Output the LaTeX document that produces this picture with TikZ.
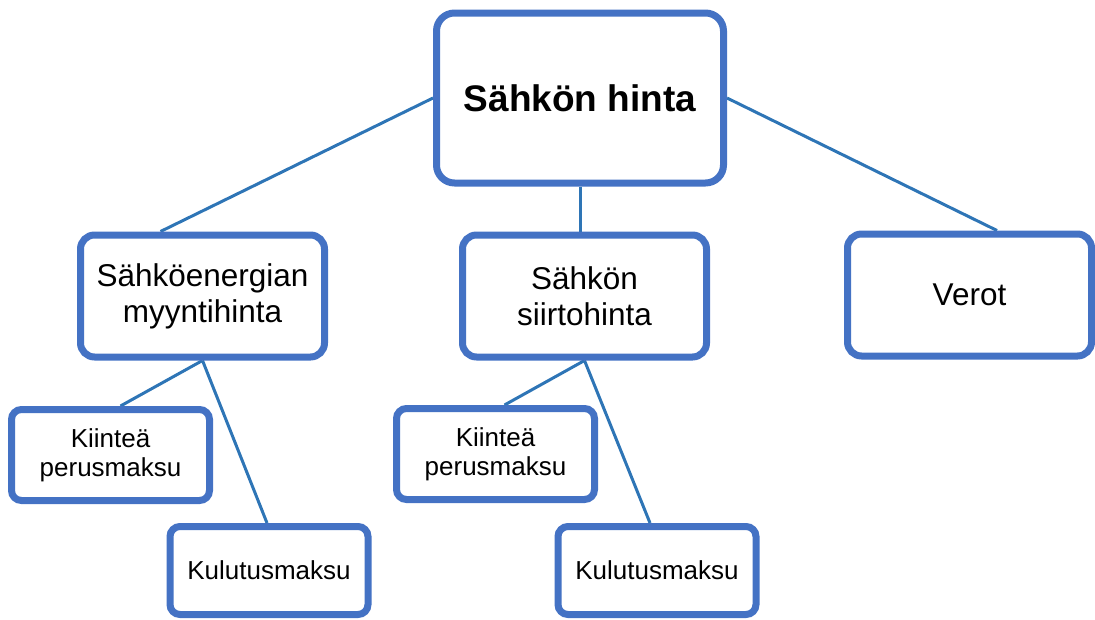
\documentclass[tikz,border=0pt]{standalone}
\usepackage{fontspec}
\setmainfont{Liberation Sans}
\usetikzlibrary{backgrounds}

\definecolor{boxblue}{RGB}{68,114,196}
\definecolor{lineblue}{RGB}{46,117,182}

\tikzstyle{block} = [draw=boxblue, line width=7pt, fill=white, rectangle, align=center, inner sep=0pt]
\tikzstyle{root} = [block, rounded corners=18pt, minimum width=287pt, minimum height=170pt, font=\fontsize{37}{44}\selectfont\bfseries]
\tikzstyle{part} = [block, rounded corners=14pt, minimum width=244pt, minimum height=122pt, font=\fontsize{31.5}{36}\selectfont]
\tikzstyle{fee} = [block, rounded corners=10pt, minimum width=198pt, minimum height=91pt, font=\fontsize{26}{29}\selectfont]
\tikzstyle{link} = [draw=lineblue, line width=3pt]

\begin{document}
\begin{tikzpicture}[x=1pt, y=-1pt]
  \useasboundingbox (0,0) rectangle (1095,619);

  \node [root] (hinta) at (580,98) {Sähkön hinta};
  \node [part] (myynti) at (202.5,296) {Sähköenergian\\myyntihinta};
  \node [part] (siirto) at (584.5,296) {Sähkön\\siirtohinta};
  \node [part] (verot) at (969.5,295) {Verot};
  \node [fee] (myyntiperus) at (110.5,455) {Kiinteä\\perusmaksu};
  \node [fee, minimum height=88pt] (myyntikulutus) at (269,570.5) {Kulutusmaksu};
  \node [fee] (siirtoperus) at (495.5,454) {Kiinteä\\perusmaksu};
  \node [fee, minimum height=88pt] (siirtokulutus) at (657,570.5) {Kulutusmaksu};

  \begin{pgfonlayer}{background}
    \draw [link] (hinta.west) -- ([xshift=-42pt]myynti.north);
    \draw [link] (hinta.south) -- (hinta.south |- siirto.north);
    \draw [link] (hinta.east) -- ([xshift=27.5pt]verot.north);
    \draw [link] (myynti.south) -- ([xshift=10pt]myyntiperus.north);
    \draw [link] (myynti.south) -- ([xshift=-2pt]myyntikulutus.north);
    \draw [link] (siirto.south) -- ([xshift=9pt]siirtoperus.north);
    \draw [link] (siirto.south) -- ([xshift=-7pt]siirtokulutus.north);
  \end{pgfonlayer}
\end{tikzpicture}
\end{document}
